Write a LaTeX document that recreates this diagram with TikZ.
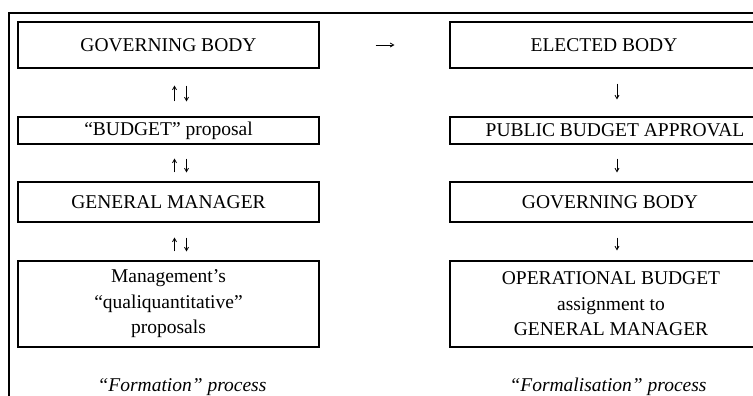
\documentclass[tikz,border=0pt]{standalone}
\usepackage{fontspec}
\setmainfont{Liberation Serif}
\usetikzlibrary{arrows.meta}
\newcommand\boxfs{\fontsize{19.5}{25.5}\selectfont}
\begin{document}
\begin{tikzpicture}[x=1pt,y=-1pt,
  procbox/.style={draw, line width=1.1pt, inner xsep=2pt, inner ysep=0pt, align=center, font=\boxfs},
  lbox/.style={procbox, minimum width=301pt},
  rbox/.style={procbox, minimum width=308pt},
  flow/.style={line width=0.8pt, -{Straight Barb[length=3.5pt,width=4pt]}},
  caption/.style={font=\boxfs\itshape, inner sep=0pt}]
\useasboundingbox (0,0) rectangle (753,396);
\clip (0,0) rectangle (753,396);
% outer frame
\draw[line width=2pt] (9,400) -- (9,13) -- (760,13);
% left column
\node[lbox, minimum height=46pt] (L1) at (168.5,45) {GOVERNING BODY};
\node[lbox, minimum height=27pt] (L2) at (168.5,130.5) {“BUDGET” proposal};
\node[lbox, minimum height=40pt] (L3) at (168.5,202) {GENERAL MANAGER};
\node[lbox, minimum height=86pt] (L4) at (168.5,304) {Management’s\\“qualiquantitative”\\proposals};
% right column
\node[rbox, minimum height=46pt] (R1) at (604,45) {ELECTED BODY};
\node[rbox, minimum height=27pt] (R2) at (604,130.5) {\hspace*{22pt}PUBLIC BUDGET APPROVAL};
\node[rbox, minimum height=40pt] (R3) at (604,202) {\hspace*{12pt}GOVERNING BODY};
\node[rbox, minimum height=86pt] (R4) at (604,304) {\hspace*{14pt}OPERATIONAL BUDGET\\\hspace*{14pt}assignment to\\\hspace*{14pt}GENERAL MANAGER};
% captions
\node[caption] (C1) at (182,387) {“Formation” process};
\node[caption] (C2) at (608,387) {“Formalisation” process};
% left double arrows
\draw[flow, shorten <=15pt, shorten >=17pt] ([xshift=6pt]L2.north) -- ([xshift=6pt]L1.south);
\draw[flow, shorten <=17pt, shorten >=15pt] ([xshift=18pt]L1.south) -- ([xshift=18pt]L2.north);
\draw[flow, shorten <=9pt, shorten >=14pt] ([xshift=6pt]L3.north) -- ([xshift=6pt]L2.south);
\draw[flow, shorten <=14pt, shorten >=9pt] ([xshift=18pt]L2.south) -- ([xshift=18pt]L3.north);
\draw[flow, shorten <=9pt, shorten >=15pt] ([xshift=6pt]L4.north) -- ([xshift=6pt]L3.south);
\draw[flow, shorten <=15pt, shorten >=9pt] ([xshift=18pt]L3.south) -- ([xshift=18pt]L4.north);
% right arrows
\draw[flow, shorten <=15pt, shorten >=17pt] ([xshift=13pt]R1.south) -- ([xshift=13pt]R2.north);
\draw[flow, shorten <=14pt, shorten >=9pt] ([xshift=13pt]R2.south) -- ([xshift=13pt]R3.north);
\draw[flow, shorten <=15pt, shorten >=10pt] ([xshift=13pt]R3.south) -- ([xshift=13pt]R4.north);
% horizontal arrow
\draw[flow, shorten <=56pt, shorten >=55pt] (L1.east) -- (R1.west);
\end{tikzpicture}
\end{document}
